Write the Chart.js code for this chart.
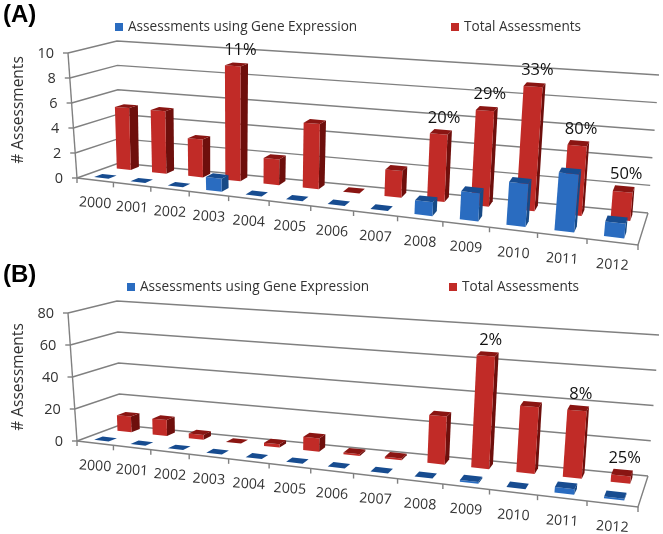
<!DOCTYPE html>
<html>
<head>
<meta charset="utf-8">
<script src="https://cdn.jsdelivr.net/npm/chart.js@4"></script>
<style>
  body { margin: 0; background: #fff; }
  canvas { position: absolute; left: 0; }
  #chartA { top: 0; }
  #chartB { top: 260px; }
</style>
</head>
<body>
<canvas id="chartA" width="663" height="280"></canvas>
<canvas id="chartB" width="663" height="274"></canvas>
<script>
const years = ['2000','2001','2002','2003','2004','2005','2006','2007','2008','2009','2010','2011','2012'];

const geneA  = [0,0,0,1,0,0,0,0,1,2,3,4,1];
const totalA = [5,5,3,9,2,5,0,2,5,7,9,5,2];
const pctA   = ['','','','11%','','','','','20%','29%','33%','80%','50%'];

const geneB  = [0,0,0,0,0,0,0,0,0,1,0,3,1];
const totalB = [10,10,3,0,2,8,1,1,28,65,38,38,4];
const pctB   = ['','','','','','','','','','2%','','8%','25%'];

const blue = { front: '#2a6cc0', side: '#174a86', top: '#174c90' };
const red  = { front: '#c12b27', side: '#6e0f0c', top: '#8a1512' };
const textFont = '"Open Sans"';

// corners of the 3d box on the page, [x, y] in canvas pixels
const boxA = {
  fl: [77,178], fr: [638,245], bl: [119,163], br: [648,213],
  flTop: [68,53], frTop: [653,95], blTop: [117,41], brTop: [659,75]
};
const boxB = {
  fl: [77,181], fr: [638,247], bl: [120,165], br: [648,216],
  flTop: [68,53], frTop: [653,95], blTop: [117,41], brTop: [659,75]
};

function lerp(a, b, t) {
  return [a[0] + (b[0] - a[0]) * t, a[1] + (b[1] - a[1]) * t];
}

// u: along the years, v: up the value axis, d: into the page (all 0..1)
function project(box, u, v, d) {
  const s = u / (u + 1.2 * (1 - u)); // bars get wider spaced toward the viewer
  const floor = lerp(lerp(box.fl, box.fr, s), lerp(box.bl, box.br, s), d);
  const ceil = lerp(lerp(box.flTop, box.frTop, s), lerp(box.blTop, box.brTop, s), d);
  return lerp(floor, ceil, v);
}

function poly(ctx, pts, fill) {
  ctx.beginPath();
  pts.forEach((p, i) => i ? ctx.lineTo(p[0], p[1]) : ctx.moveTo(p[0], p[1]));
  ctx.closePath();
  ctx.fillStyle = fill;
  ctx.fill();
}

function line(ctx, pts) {
  ctx.beginPath();
  pts.forEach((p, i) => i ? ctx.lineTo(p[0], p[1]) : ctx.moveTo(p[0], p[1]));
  ctx.stroke();
}

const perspective = {
  id: 'perspective',
  beforeDatasetsDraw(chart, args, opts) {
    const ctx = chart.ctx;
    const box = opts.box;
    const xs = chart.scales.x;
    const ys = chart.scales.y;
    const toU = px => (px - xs.left) / xs.width;
    const toV = px => (ys.bottom - px) / ys.height;

    ctx.save();

    // walls
    ctx.strokeStyle = '#808080';
    ctx.lineWidth = 1.4;
    ys.ticks.forEach(t => {
      const v = toV(ys.getPixelForValue(t.value));
      line(ctx, [project(box,0,v,0), project(box,0,v,1), project(box,1,v,1)]);
      const a = project(box,0,v,0);
      line(ctx, [[a[0]-5,a[1]], a]);
    });
    line(ctx, [project(box,0,0,0), project(box,0,1,0)]);
    line(ctx, [project(box,1,0,1), project(box,1,0,0), project(box,0,0,0)]);

    // year ticks on the front edge
    for (let i = 0; i <= years.length; i++) {
      const p = project(box, i / years.length, 0, 0);
      line(ctx, [p, [p[0], p[1] + 5]]);
    }

    // bars, back row first
    const rows = [[1, 0.7, 0.9], [0, 0.15, 0.35]];
    rows.forEach(([di, d0, d1]) => {
      const col = di === 1 ? red : blue;
      chart.getDatasetMeta(di).data.forEach(bar => {
        const u0 = toU(bar.x - bar.width / 2);
        const u1 = toU(bar.x + bar.width / 2);
        const v = toV(bar.y);
        if (v > 0) {
          poly(ctx, [project(box,u1,0,d0), project(box,u1,0,d1), project(box,u1,v,d1), project(box,u1,v,d0)], col.side);
          poly(ctx, [project(box,u0,0,d0), project(box,u1,0,d0), project(box,u1,v,d0), project(box,u0,v,d0)], col.front);
        }
        poly(ctx, [project(box,u0,v,d0), project(box,u1,v,d0), project(box,u1,v,d1), project(box,u0,v,d1)], col.top);
      });
    });

    // percentages above the total bars
    ctx.fillStyle = '#111';
    ctx.font = '16.5px ' + textFont;
    ctx.textAlign = 'center';
    ctx.textBaseline = 'middle';
    chart.getDatasetMeta(1).data.forEach((bar, i) => {
      if (!opts.pct[i]) return;
      const p = project(box, toU(bar.x), toV(bar.y), 0.85);
      ctx.fillText(opts.pct[i], p[0] + 2, p[1] - 13);
    });

    // year labels
    ctx.fillStyle = '#333';
    ctx.font = '14.2px ' + textFont;
    years.forEach((y, i) => {
      const p = project(box, toU(xs.getPixelForValue(i)), 0, 0);
      ctx.save();
      ctx.translate(p[0], p[1] + 23);
      ctx.rotate(0.06);
      ctx.fillText(y, 0, 0);
      ctx.restore();
    });

    // value labels
    ctx.textAlign = 'right';
    ctx.font = '14.5px ' + textFont;
    ys.ticks.forEach(t => {
      const p = project(box, 0, toV(ys.getPixelForValue(t.value)), 0);
      ctx.fillText(t.value, p[0] - 14, p[1] + 1);
    });

    // axis title
    ctx.save();
    ctx.translate(19, opts.titleY);
    ctx.rotate(-Math.PI / 2);
    ctx.textAlign = 'center';
    ctx.font = '15.5px ' + textFont;
    ctx.fillText('# Assessments', 0, 0);
    ctx.restore();

    // legend
    ctx.textAlign = 'left';
    ctx.font = '13.6px ' + textFont;
    chart.data.datasets.forEach((ds, i) => {
      ctx.fillStyle = ds.backgroundColor;
      ctx.fillRect(opts.legendX[i], 23, 8, 8);
      ctx.fillStyle = '#333';
      ctx.fillText(ds.label, opts.legendX[i] + 13, 27);
    });

    // panel letter
    ctx.fillStyle = '#000';
    ctx.font = 'bold 24px "Liberation Sans"';
    ctx.fillText(opts.letter, 3, 15);

    ctx.restore();
    return false; // native flat bars are replaced by the projected ones
  }
};

function makePanel(id, gene, total, yMax, step, extra) {
  return new Chart(document.getElementById(id), {
    type: 'bar',
    data: {
      labels: years,
      datasets: [
        { label: 'Assessments using Gene Expression', data: gene, backgroundColor: blue.front },
        { label: 'Total Assessments', data: total, backgroundColor: red.front }
      ]
    },
    options: {
      responsive: false,
      animation: false,
      datasets: { bar: { grouped: false, categoryPercentage: 1, barPercentage: 0.4 } },
      scales: {
        x: { display: false },
        y: { display: false, min: 0, max: yMax, ticks: { stepSize: step } }
      },
      plugins: {
        legend: { display: false },
        tooltip: { enabled: false },
        perspective: extra
      }
    },
    plugins: [perspective]
  });
}

makePanel('chartA', geneA, totalA, 10, 2, { box: boxA, pct: pctA, letter: '(A)', titleY: 110, legendX: [115, 451] });
makePanel('chartB', geneB, totalB, 80, 20, { box: boxB, pct: pctB, letter: '(B)', titleY: 117, legendX: [127, 449] });
</script>
</body>
</html>
